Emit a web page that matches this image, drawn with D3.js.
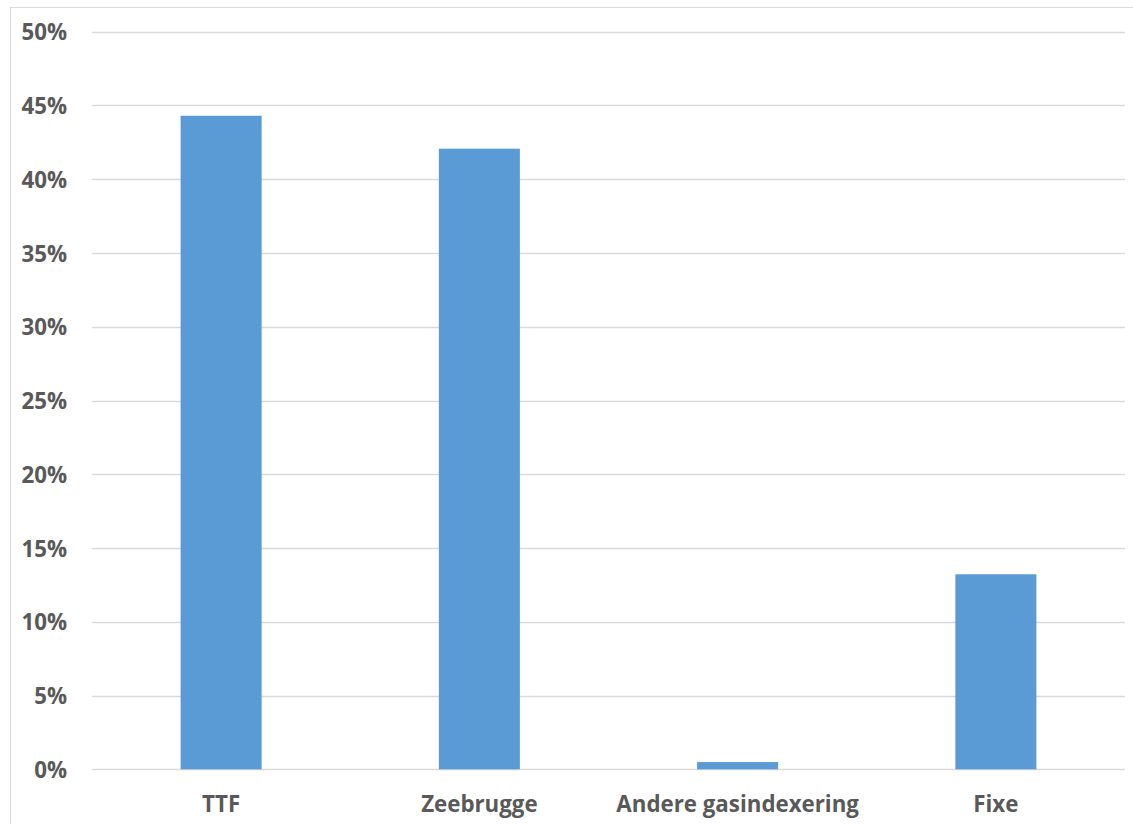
<!DOCTYPE html>
<html><head><meta charset="utf-8">
<script src="https://cdn.jsdelivr.net/npm/d3@7"></script>
<style>html,body{margin:0;padding:0;background:#fff;}svg{display:block;}</style>
</head><body>
<script>
const categories = ["TTF", "Zeebrugge", "Andere gasindexering", "Fixe"];
const values = [44.3, 42.07, 0.49, 13.22];
const yTicks = [0, 5, 10, 15, 20, 25, 30, 35, 40, 45, 50];

(function () {
const W = 1133, H = 824;
const svg = d3.select("body").append("svg").attr("width", W).attr("height", H);

svg.append("rect").attr("x", 10.5).attr("y", 7.5).attr("width", 1200).attr("height", 900)
  .attr("fill", "#fff").attr("stroke", "#d9d9d9").attr("stroke-width", 1);

const pLeft = 92, pRight = 1125, pTop = 31.7, pBottom = 769.3;
const x = d3.scaleBand().domain(categories).range([pLeft, pRight]).padding(0);
const y = d3.scaleLinear().domain([0, 50]).range([pBottom, pTop]);
const barFrac = 0.3137;

const font = "'Open Sans', sans-serif";

// gridlines
svg.append("g").selectAll("line").data(yTicks).join("line")
  .attr("x1", pLeft).attr("x2", pRight)
  .attr("y1", d => Math.round(y(d)) + 0.5).attr("y2", d => Math.round(y(d)) + 0.5)
  .attr("stroke", "#d9d9d9").attr("stroke-width", 1.3);

// y axis labels
const yAxis = d3.axisLeft(y).tickValues(yTicks).tickFormat(d => d + "%").tickSize(0).tickPadding(0);
const gy = svg.append("g").attr("transform", "translate(67,0)").call(yAxis);
gy.select(".domain").remove();
gy.selectAll("text").attr("fill", "#595959").attr("font-family", font)
  .attr("font-weight", 700).attr("font-size", 22.3).attr("dy", "0.36em");

// bars
svg.append("g").selectAll("rect").data(values).join("rect")
  .attr("x", (d, i) => x(categories[i]) + x.bandwidth() * (1 - barFrac) / 2)
  .attr("width", x.bandwidth() * barFrac)
  .attr("y", d => y(d))
  .attr("height", d => y(0) - y(d))
  .attr("fill", "#5b9bd5");

// x axis labels
const xAxis = d3.axisBottom(x).tickSize(0).tickPadding(0);
const gx = svg.append("g").attr("transform", `translate(0,${pBottom})`).call(xAxis);
gx.select(".domain").remove();
gx.selectAll("text").attr("fill", "#595959").attr("font-family", font)
  .attr("font-weight", 700).attr("font-size", 22.3).attr("y", 42.5).attr("dy", 0);
})();
</script>
</body></html>
